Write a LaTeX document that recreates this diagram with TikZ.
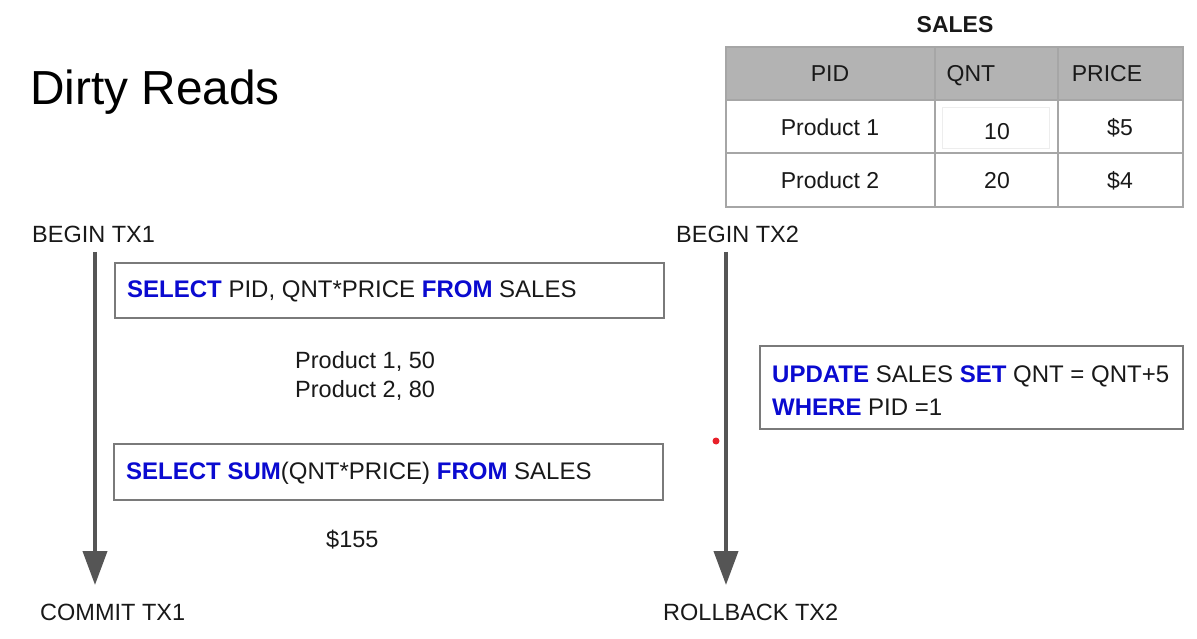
\documentclass[tikz,border=0pt]{standalone}
\usepackage{fontspec}
\setmainfont{Liberation Sans}
\usetikzlibrary{arrows.meta}
\definecolor{kwblue}{HTML}{0A0AD0}
\definecolor{arrowgray}{HTML}{555555}
\definecolor{boxgray}{HTML}{7A7A7A}
\definecolor{tblline}{HTML}{A6A6A6}
\definecolor{hdrfill}{HTML}{B3B3B3}
\definecolor{dotred}{HTML}{E8202A}
\newcommand{\sqlkw}[1]{\textcolor{kwblue}{\textbf{#1}}}
\begin{document}
\begin{tikzpicture}[x=1pt,y=-1pt,
  txt/.style={inner sep=0pt, anchor=base west, font=\fontsize{23.5}{27}\selectfont, text=black!90},
  sqltxt/.style={inner sep=0pt, anchor=base west, font=\fontsize{24}{28}\selectfont, text=black!90},
  ctxt/.style={inner sep=0pt, anchor=base, font=\fontsize{23}{27}\selectfont, text=black!90},
  sqlbox/.style={draw=boxgray, line width=1.2pt, inner sep=0pt},
  timeline/.style={draw=arrowgray, line width=4pt, -{Triangle[width=24pt,length=34pt]}},
  tbl/.style={draw=tblline, line width=1.5pt},
]
\fill[white] (0,0) rectangle (1197,639);
\useasboundingbox (0,0) rectangle (1197,639);

% title
\node[inner sep=0pt, anchor=base west, font=\fontsize{47.8}{55}\selectfont] (title) at (30,105) {Dirty Reads};

% table
\node[ctxt, font=\fontsize{23}{27}\selectfont\bfseries] (tname) at (955,33) {SALES};
\fill[hdrfill] (726,47) rectangle (1183,100);
\draw[black!7, line width=0.8pt] (942,107) rectangle (1049,148);
\draw[tbl] (726,47) rectangle (1183,207);
\draw[tbl] (726,100) -- (1183,100);
\draw[tbl] (726,153) -- (1183,153);
\draw[tbl] (935,47) -- (935,207);
\draw[tbl] (1058,47) -- (1058,207);
\node[ctxt] (hpid) at (830,82) {PID};
\node[ctxt] (hqnt) at (971,82) {QNT};
\node[ctxt] (hprice) at (1107,82) {PRICE};
\node[ctxt] (r1pid) at (830,136) {Product 1};
\node[ctxt] (r1qnt) at (997,140) {10};
\node[ctxt] (r1price) at (1120,136) {\$5};
\node[ctxt] (r2pid) at (830,189) {Product 2};
\node[ctxt] (r2qnt) at (997,189) {20};
\node[ctxt] (r2price) at (1120,189) {\$4};

% transaction labels
\node[txt] (b1) at (32,243) {BEGIN TX1};
\node[txt] (b2) at (676,243) {BEGIN TX2};
\node[txt] (c1) at (40,620) {COMMIT TX1};
\node[txt] (r2) at (663,620) {ROLLBACK TX2};

% timelines
\coordinate (t1s) at (95,252);
\coordinate (t1e) at (95,585);
\coordinate (t2s) at (726,252);
\coordinate (t2e) at (726,585);
\draw[timeline] (t1s) -- (t1e);
\draw[timeline] (t2s) -- (t2e);

% query boxes
\node[sqlbox, minimum width=549pt, minimum height=55pt] (q1) at (389.5,290.5) {};
\node[sqltxt] (q1t) at (127,298) {\sqlkw{SELECT} PID, QNT*PRICE \sqlkw{FROM} SALES};
\node[txt] (res1a) at (295,368) {Product 1, 50};
\node[txt] (res1b) at (295,397) {Product 2, 80};

\node[sqlbox, minimum width=549pt, minimum height=56pt] (q2) at (388.5,472) {};
\node[sqltxt] (q2t) at (126,479) {\sqlkw{SELECT SUM}(QNT*PRICE) \sqlkw{FROM} SALES};
\node[txt] (res2) at (326,547) {\$155};

\node[sqlbox, minimum width=423pt, minimum height=83pt] (u1) at (971.5,387.5) {};
\node[sqltxt] (u1a) at (772,382) {\sqlkw{UPDATE} SALES \sqlkw{SET} QNT = QNT+5};
\node[sqltxt] (u1b) at (772,415) {\sqlkw{WHERE} PID =1};

% red dot
\node[circle, fill=dotred, inner sep=0pt, minimum size=7pt] (dot) at (716,441) {};
\end{tikzpicture}
\end{document}
